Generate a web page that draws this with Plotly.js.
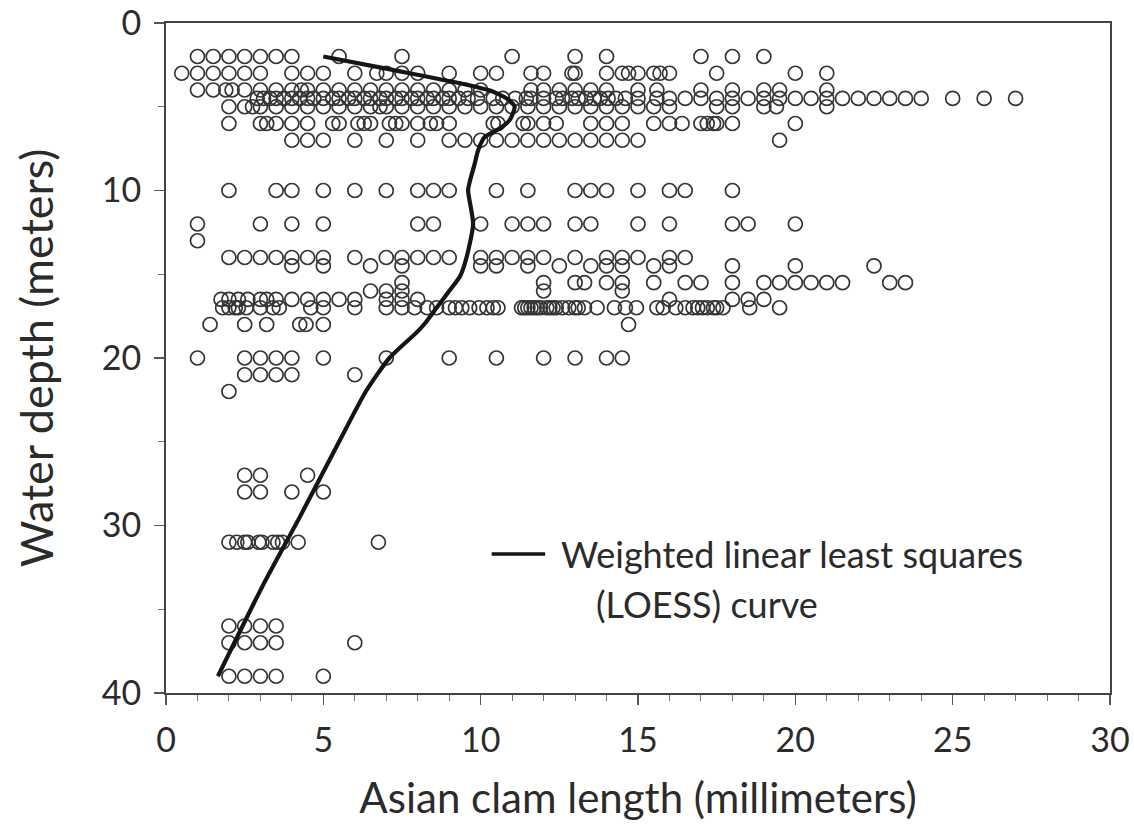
<!DOCTYPE html>
<html>
<head>
<meta charset="utf-8">
<script src="https://cdn.plot.ly/plotly-3.0.1.min.js"></script>
<style>html,body{margin:0;padding:0;background:#fff}#chart{width:1134px;height:825px}</style>
</head>
<body>
<div id="chart"></div>
<script>
// Asian clam length (mm) observed at each water depth (m)
const depths = [2, 3, 4, 4.5, 5, 6, 7, 10, 12, 13, 14, 14.5, 15.5, 16, 16.5, 17, 18, 20, 21, 22, 27, 28, 31, 36, 37, 39];
const len_d2 = [1,1.5,2,2.5,3,3.5,4,5.5,7.5,11,13,14,17,18,19];
const len_d3 = [0.5,1,1.5,2,2.5,3,4,4.5,5,6,6.7,7,7.5,8,9,10,10.5,11.6,12,12.9,13,14,14.5,14.7,15,15.5,15.7,16,17.5,20,21];
const len_d4 = [1,1.5,1.9,2.1,2.5,3,3.5,4,4.3,4.5,5,5.5,6,6.5,7,7.5,8,8.5,9,9.5,10,11.6,12,12.5,13,13.5,14,15,15.6,17,18,19,19.5,21];
const len_d4_5 = [2.9,3.1,3.3,3.5,3.75,4,4.25,4.5,4.7,5,5.3,5.5,5.8,6,6.3,6.5,6.8,7,7.3,7.5,7.8,8,8.3,8.5,8.8,9,9.3,9.6,9.9,10.4,10.7,11.1,11.45,11.6,12,12.4,12.6,12.9,13.1,13.35,13.6,13.8,14.05,14.3,14.6,15,15.6,16,16.5,17,17.5,18,18.5,19,19.5,20,20.5,21,21.5,22,22.5,23,23.5,24,25,26,27];
const len_d5 = [2,2.5,2.75,3,3.5,4,4.5,5,5.5,6,6.5,6.8,7,7.5,8,8.5,9,9.5,10,10.5,11,11.5,12,12.5,13,13.5,14,14.5,15,15.5,16,17.5,18,19,19.4,21];
const len_d6 = [2,3,3.2,3.5,4,4.5,5.3,5.5,6.1,6.3,6.5,7.1,7.3,7.5,8,8.4,8.6,9,10.4,10.55,11.35,11.5,12,12.4,13.5,14,14.5,15.5,16,16.4,17,17.2,17.4,17.5,18,20];
const len_d7 = [4,4.5,5,6,7,8,9,9.5,10,10.5,11,11.5,12,12.5,13,13.5,14,14.5,15,19.5];
const len_d10 = [2,3.5,4,5,6,7,8,8.5,9,10.5,11.5,13,13.5,14,15,16,16.5,18];
const len_d12 = [1,3,4,5,8,8.5,10,11,11.5,12,13,13.5,15,16,18,18.5,20];
const len_d13 = [1];
const len_d14 = [2,2.5,3,3.5,4,4.5,5,6,7,7.5,8,8.5,9,10,10.5,11,11.5,12,13,14,14.5,15,16,16.5];
const len_d14_5 = [4,5,6.5,7.5,10,10.5,11.5,12.5,13.5,14,14.5,15.5,16,18,20,22.5];
const len_d15_5 = [7.5,12,13,13.3,14,14.5,15.5,16.5,17,18,19,19.5,20,20.5,21,21.5,23,23.5];
const len_d16 = [6.5,7,7.5,12,14.5];
const len_d16_5 = [1.75,2,2.3,2.6,3,3.2,3.5,4,4.5,5,5.5,6,7,7.5,8,16,18,18.5,19];
const len_d17 = [1.8,2,2.2,2.3,2.55,3,3.4,3.6,4.6,5,6,7,7.5,7.9,8.3,8.6,9,9.2,9.4,9.65,9.95,10.2,10.4,10.55,11.3,11.4,11.5,11.6,11.7,11.8,11.9,12.1,12.2,12.3,12.4,12.6,12.8,13,13.1,13.3,13.7,14.25,14.6,14.95,15.6,15.8,16.2,16.5,16.75,16.9,17.05,17.2,17.4,17.5,17.7,18.55,19.5];
const len_d18 = [1.4,2.5,3.2,4.25,4.45,5,14.7];
const len_d20 = [1,2.5,3,3.5,4,5,7,9,10.5,12,13,14,14.5];
const len_d21 = [2.5,3,3.5,4,6];
const len_d22 = [2];
const len_d27 = [2.5,3,4.5];
const len_d28 = [2.5,3,4,5];
const len_d31 = [2,2.25,2.5,2.6,2.95,3.05,3.4,3.55,3.7,4.2,6.75];
const len_d36 = [2,2.5,3,3.5];
const len_d37 = [2,2.5,3,3.5,6];
const len_d39 = [2,2.5,3,3.5,5];
const lengthsByDepth = [len_d2,len_d3,len_d4,len_d4_5,len_d5,len_d6,len_d7,len_d10,len_d12,len_d13,len_d14,len_d14_5,len_d15_5,len_d16,len_d16_5,len_d17,len_d18,len_d20,len_d21,len_d22,len_d27,len_d28,len_d31,len_d36,len_d37,len_d39];

// LOESS curve
const loessX = [5.0, 7.2, 9.35, 10.4, 10.9, 11.08, 10.92, 10.6, 10.13, 9.92, 9.81, 9.65, 9.6, 9.76, 9.55, 9.35, 9.0, 8.6, 8.2, 7.95, 7.1, 6.35, 5.5, 4.25, 3.1, 1.65];
const loessY = [2.0, 2.8, 3.6, 4.1, 4.6, 5.0, 5.8, 6.3, 6.8, 7.6, 8.4, 9.5, 10.0, 12.0, 14.0, 15.1, 16.0, 17.0, 18.0, 18.5, 20.0, 22.0, 25.0, 29.5, 33.5, 39.0];

// tick labels
const xTicks = [0, 5, 10, 15, 20, 25, 30];
const yTicks = [0, 10, 20, 30, 40];

const legendLine1 = 'Weighted linear least squares';
const legendLine2 = '(LOESS) curve';
const xTitle = 'Asian clam length (millimeters)';
const yTitle = 'Water depth (meters)';

const ptsX = [], ptsY = [];
depths.forEach((d, i) => lengthsByDepth[i].forEach(v => { ptsX.push(v); ptsY.push(d); }));

const FONT = 'Lato, "Open Sans", sans-serif';
const INK = '#2b2b2b';

const traces = [
  {
    type: 'scatter', mode: 'markers', x: ptsX, y: ptsY, showlegend: false, hoverinfo: 'x+y',
    marker: { symbol: 'circle-open', size: 14, color: '#353535', line: { width: 1.7, color: '#353535' } }
  },
  {
    type: 'scatter', mode: 'lines', x: loessX, y: loessY, showlegend: false,
    line: { color: '#151515', width: 4.2, shape: 'spline', smoothing: 0.6 }
  }
];

const axisCommon = {
  showgrid: false, zeroline: false, showline: true, mirror: true,
  linecolor: '#444', linewidth: 2,
  ticks: 'outside', ticklen: 10, tickwidth: 1.3, tickcolor: '#555',
  tickfont: { family: FONT, size: 34, color: INK },
  ticklabelstandoff: 6, tickmode: 'array', ticklabeloverflow: 'allow'
};

const layout = {
  width: 1134, height: 825,
  margin: { l: 166, r: 24, t: 23, b: 132 },
  paper_bgcolor: '#fff', plot_bgcolor: '#fff',
  font: { family: FONT, color: INK },
  xaxis: Object.assign({}, axisCommon, {
    range: [0, 30], autorange: false,
    tickvals: xTicks, ticktext: xTicks.map(String),
    minor: { dtick: 1, tick0: 0, ticks: 'outside', ticklen: 6, tickwidth: 1, tickcolor: '#777' },
    title: { text: xTitle, font: { family: FONT, size: 42, color: INK }, standoff: 26 }
  }),
  yaxis: Object.assign({}, axisCommon, {
    range: [40, 0], autorange: false,
    tickvals: yTicks, ticktext: yTicks.map(String),
    minor: { dtick: 5, tick0: 0, ticks: 'outside', ticklen: 6, tickwidth: 1, tickcolor: '#777' },
    title: { text: yTitle, font: { family: FONT, size: 45, color: INK }, standoff: 34 }
  }),
  shapes: [
    { type: 'line', xref: 'x', yref: 'y', x0: 10.35, x1: 12.05, y0: 31.7, y1: 31.7, line: { color: '#151515', width: 3.5 } }
  ],
  annotations: [
    { xref: 'x', yref: 'y', x: 12.5, y: 31.7, xanchor: 'left', yanchor: 'middle', showarrow: false,
      text: legendLine1, font: { family: FONT, size: 36, color: INK } },
    { xref: 'x', yref: 'y', x: 13.6, y: 34.7, xanchor: 'left', yanchor: 'middle', showarrow: false,
      text: legendLine2, font: { family: FONT, size: 36, color: INK } }
  ]
};

Plotly.newPlot('chart', traces, layout, { displayModeBar: false, staticPlot: true });
</script>
</body>
</html>
